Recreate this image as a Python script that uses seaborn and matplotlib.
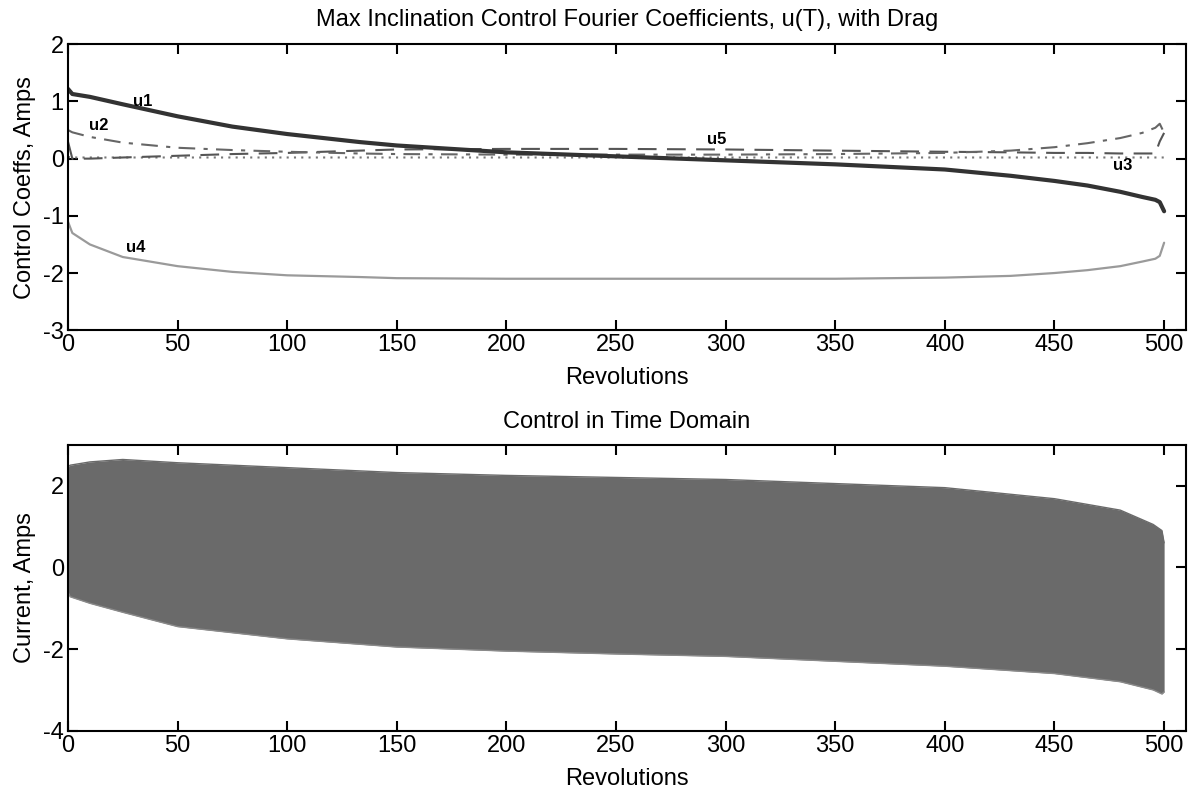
import numpy as np
import pandas as pd
import matplotlib
matplotlib.use("Agg")
import matplotlib.pyplot as plt
import seaborn as sns

# Fourier coefficients of the control
rev = [0, 2, 10, 25, 50, 75, 100, 133, 150, 200, 250, 300, 350, 400,
       430, 450, 465, 480, 490, 496, 498, 500]
u1 = [1.22, 1.13, 1.08, 0.95, 0.74, 0.56, 0.43, 0.29, 0.23, 0.11, 0.04, -0.03,
      -0.10, -0.19, -0.30, -0.39, -0.47, -0.58, -0.67, -0.72, -0.76, -0.92]
u2 = [0.50, 0.46, 0.38, 0.28, 0.19, 0.15, 0.12, 0.09, 0.08, 0.07, 0.07, 0.07,
      0.08, 0.10, 0.14, 0.20, 0.27, 0.36, 0.45, 0.54, 0.61, 0.45]
u3 = [0.03, 0.02, 0.02, 0.02, 0.02, 0.02, 0.02, 0.02, 0.02, 0.02, 0.02, 0.02,
      0.02, 0.02, 0.02, 0.02, 0.02, 0.02, 0.02, 0.02, 0.02, 0.02]
u4 = [-1.10, -1.30, -1.50, -1.72, -1.88, -1.98, -2.04, -2.07, -2.09, -2.10,
      -2.10, -2.10, -2.10, -2.08, -2.05, -2.00, -1.95, -1.88, -1.80, -1.75,
      -1.70, -1.47]
u5 = [0.30, 0.00, 0.00, 0.02, 0.05, 0.08, 0.10, 0.14, 0.16, 0.17, 0.17, 0.16,
      0.14, 0.12, 0.11, 0.10, 0.10, 0.09, 0.09, 0.09, 0.30, 0.45]

# envelope of the time-domain control current
rev_t = [0, 1, 10, 25, 50, 100, 150, 200, 250, 300, 350, 400, 450, 480,
         495, 499, 500]
cur_hi = [2.45, 2.50, 2.58, 2.64, 2.56, 2.44, 2.32, 2.25, 2.20, 2.15, 2.05,
          1.95, 1.68, 1.40, 1.05, 0.90, 0.60]
cur_lo = [-0.60, -0.72, -0.88, -1.10, -1.45, -1.75, -1.95, -2.05, -2.12,
          -2.18, -2.30, -2.42, -2.60, -2.80, -3.00, -3.10, -3.05]

sns.set_theme(style="ticks")
plt.rcParams["font.family"] = ["Liberation Sans", "DejaVu Sans"]
plt.rcParams.update({
    "axes.unicode_minus": False,
    "xtick.direction": "in", "ytick.direction": "in",
    "xtick.top": True, "ytick.right": True,
    "xtick.major.size": 7, "ytick.major.size": 7,
    "xtick.major.width": 1.5, "ytick.major.width": 1.5,
    "axes.linewidth": 1.5, "axes.edgecolor": "black",
    "xtick.labelsize": 17, "ytick.labelsize": 17,
    "text.color": "black", "axes.labelcolor": "black",
    "xtick.color": "black", "ytick.color": "black",
})

fig = plt.figure(figsize=(11.92, 7.90), dpi=100)
ax1 = fig.add_axes([0.057, 0.582, 0.938, 0.362])
ax2 = fig.add_axes([0.057, 0.075, 0.938, 0.362])

df = pd.DataFrame({"rev": rev, "u1": u1, "u2": u2, "u3": u3, "u4": u4, "u5": u5})
styles = {
    "u1": dict(color="#333333", lw=3.0),
    "u2": dict(color="#666666", lw=1.5, dashes=(8, 4, 2, 4)),
    "u3": dict(color="#777777", lw=1.5, dashes=(1, 2.5)),
    "u4": dict(color="#9a9a9a", lw=1.6),
    "u5": dict(color="#555555", lw=1.5, dashes=(9, 5)),
}
for name in ["u4", "u3", "u5", "u2", "u1"]:
    st = styles[name]
    sns.lineplot(data=df, x="rev", y=name, ax=ax1, color=st["color"], lw=st["lw"])
    if "dashes" in st:
        ax1.lines[-1].set_dashes(st["dashes"])
sns.despine(ax=ax1, top=False, right=False)

labels = {"u1": (34, 1.0), "u2": (14, 0.58), "u5": (296, 0.33),
          "u3": (481, -0.12), "u4": (31, -1.56)}
for name, (lx, ly) in labels.items():
    ax1.text(lx, ly, name, fontsize=12, fontweight="bold", ha="center", va="center")

ax1.set_xlim(0, 510)
ax1.set_ylim(-3, 2)
ax1.set_xticks(range(0, 501, 50))
ax1.set_yticks(range(-3, 3))
ax1.set_title("Max Inclination Control Fourier Coefficients, u(T), with Drag",
              fontsize=17, pad=13)
ax1.set_xlabel("Revolutions", fontsize=17, labelpad=8)
ax1.set_ylabel("Control Coeffs, Amps", fontsize=17, labelpad=5)

# time-domain control band
sns.lineplot(x=rev_t, y=cur_hi, ax=ax2, color="#6a6a6a", lw=1)
sns.lineplot(x=rev_t, y=cur_lo, ax=ax2, color="#8a8a8a", lw=1)
ax2.fill_between(rev_t, cur_lo, cur_hi, color="#6a6a6a", lw=0)
sns.despine(ax=ax2, top=False, right=False)
ax2.set_xlim(0, 510)
ax2.set_ylim(-4, 3)
ax2.set_xticks(range(0, 501, 50))
ax2.set_yticks([-4, -2, 0, 2])
ax2.set_title("Control in Time Domain", fontsize=17, pad=12)
ax2.set_xlabel("Revolutions", fontsize=17, labelpad=8)
ax2.set_ylabel("Current, Amps", fontsize=17, labelpad=5)

for ax in (ax1, ax2):
    ax.tick_params(axis="both", pad=3)

fig.savefig("out.png", dpi=100)
